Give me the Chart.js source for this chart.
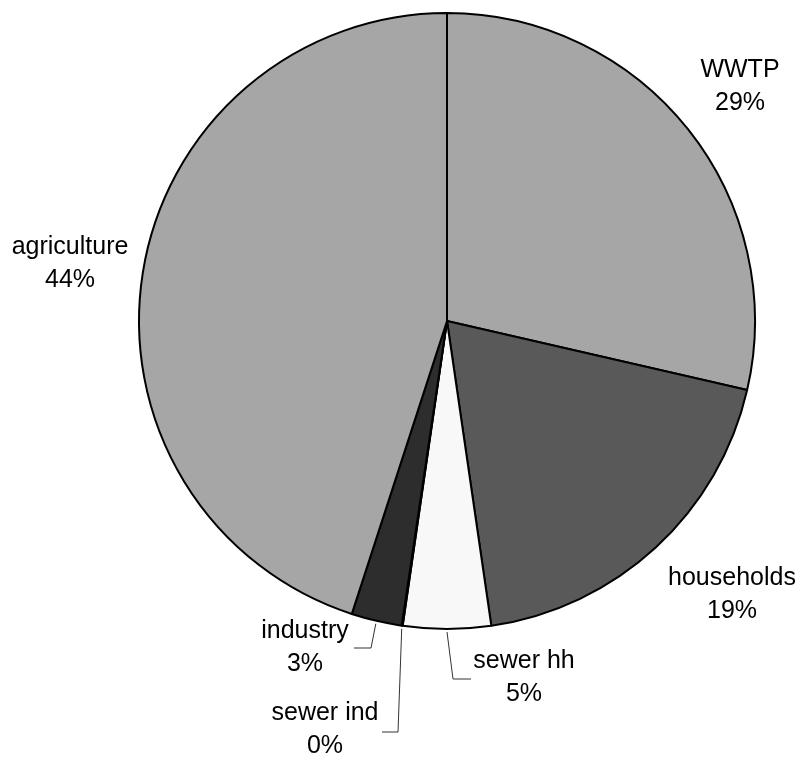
<!DOCTYPE html>
<html>
<head>
<meta charset="utf-8">
<title>Sources pie</title>
<script src="https://cdn.jsdelivr.net/npm/chart.js@4.4.1/dist/chart.umd.min.js"></script>
<style>
    body { margin: 0; background: #fff; }
    #wrap { width: 801px; height: 760px; position: relative; }
</style>
</head>
<body>
<div id="wrap"><canvas id="pieChart"></canvas></div>
<script>
// Slices, clockwise from 12 o'clock
const categories = ['WWTP', 'households', 'sewer hh', 'sewer ind', 'industry', 'agriculture'];
const shares = [28.6, 19.1, 4.6, 0.05, 2.65, 45.0];
const percentLabels = ['29%', '19%', '5%', '0%', '3%', '44%'];
const sliceColors = ['#a6a6a6', '#595959', '#f8f8f8', '#ffffff', '#2d2d2d', '#a6a6a6'];

// Label placement: text centre x, first baseline y, optional leader (elbow, end)
const labelLayout = [
    { x: 740, y: 77 },
    { x: 732, y: 585 },
    { x: 524, y: 668, leader: [[453, 679], [471, 679]] },
    { x: 325, y: 720, leader: [[398, 732], [382, 732]] },
    { x: 305, y: 638, leader: [[371, 648], [354, 648]] },
    { x: 70, y: 254 }
];

const FONT = '25px "Liberation Sans", Arial, sans-serif';
const LINE_GAP = 33;

// Draw the Excel-style data labels with leader lines
const labelPlugin = {
    id: 'pieLabels',
    afterDraw(chart) {
        const ctx = chart.ctx;
        const arcs = chart.getDatasetMeta(0).data;
        ctx.save();
        ctx.font = FONT;
        ctx.fillStyle = '#000';
        ctx.textAlign = 'center';
        ctx.textBaseline = 'alphabetic';

        arcs.forEach((arc, i) => {
            const pos = labelLayout[i];
            const p = arc.getProps(['x', 'y', 'startAngle', 'endAngle', 'outerRadius'], true);

            if (pos.leader) {
                const mid = (p.startAngle + p.endAngle) / 2;
                const r = p.outerRadius + 3;
                ctx.beginPath();
                ctx.strokeStyle = '#333';
                ctx.lineWidth = 1;
                ctx.moveTo(p.x + Math.cos(mid) * r, p.y + Math.sin(mid) * r);
                pos.leader.forEach(pt => ctx.lineTo(pt[0], pt[1]));
                ctx.stroke();
            }

            ctx.fillText(categories[i], pos.x, pos.y);
            ctx.fillText(percentLabels[i], pos.x, pos.y + LINE_GAP);
        });
        ctx.restore();
    }
};

new Chart(document.getElementById('pieChart'), {
    type: 'pie',
    data: {
        labels: categories,
        datasets: [{
            data: shares,
            backgroundColor: sliceColors,
            borderColor: '#000',
            borderWidth: 2
        }]
    },
    options: {
        responsive: true,
        maintainAspectRatio: false,
        animation: false,
        radius: 308,
        layout: {
            padding: { left: 138, right: 45, top: 12, bottom: 130 }
        },
        plugins: {
            legend: { display: false },
            tooltip: { enabled: false }
        }
    },
    plugins: [labelPlugin]
});
</script>
</body>
</html>
